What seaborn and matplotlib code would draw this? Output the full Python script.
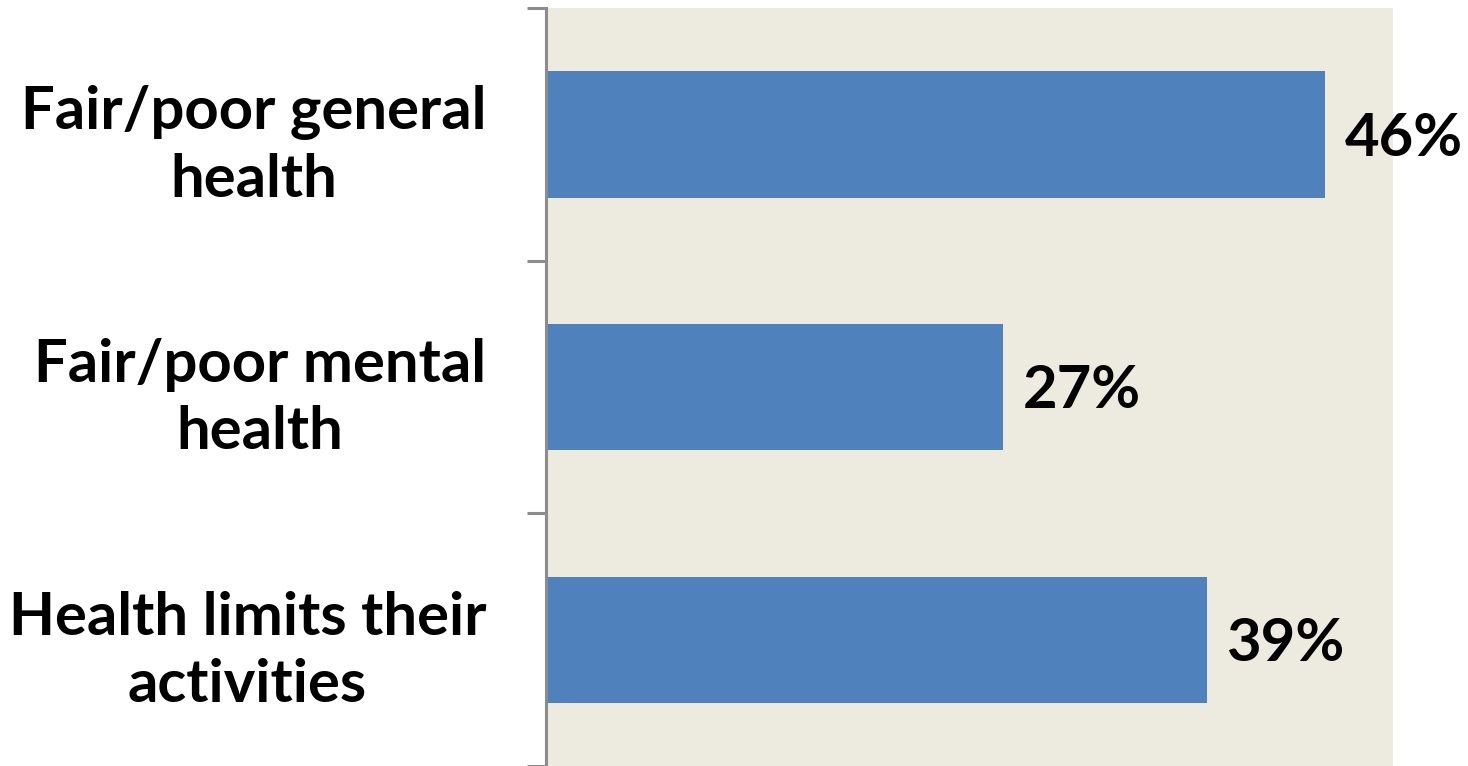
import matplotlib
matplotlib.use("Agg")
import matplotlib.pyplot as plt
import seaborn as sns
import pandas as pd

categories = ["Fair/poor general\nhealth", "Fair/poor mental\nhealth", "Health limits their\nactivities"]
values = [46, 27, 39]
value_labels = ["46%", "27%", "39%"]

sns.set_theme(style="white")
plt.rcParams['font.family'] = ['Lato', 'DejaVu Sans']

df = pd.DataFrame({"cat": categories, "val": values})

fig = plt.figure(figsize=(14.68, 7.66), dpi=100)
ax = fig.add_axes([546/1468, 0.0, (1393-546)/1468, 1 - 8/766])
ax.set_facecolor("#EDEAE0")

sns.barplot(data=df, x="val", y="cat", orient="h", color="#4F81BD",
            saturation=1, width=0.5, linewidth=0, ax=ax)

ax.set_xlim(0, 50)
ax.set_ylim(2.5, -0.5)
ax.set_xlabel("")
ax.set_ylabel("")
ax.set_xticks([])

for s in ["top", "right", "bottom"]:
    ax.spines[s].set_visible(False)
ax.spines["left"].set_color("#8C8C8C")
ax.spines["left"].set_linewidth(2.2)

ax.set_yticks(range(len(categories)))
ax.set_yticklabels(categories, fontsize=43, fontweight="bold",
                   multialignment="center", color="black", linespacing=1.3)
ax.tick_params(axis="y", which="major", length=0, pad=43)
ax.set_yticks([-0.5, 0.5, 1.5, 2.5], minor=True)
ax.tick_params(axis="y", which="minor", length=14, width=2.2, color="#8C8C8C", left=True)

for i, (v, lab) in enumerate(zip(values, value_labels)):
    ax.annotate(lab, xy=(v, i), xytext=(14, -3), textcoords="offset points",
                ha="left", va="center", fontsize=43, fontweight="bold", color="black")

fig.savefig("out.png", dpi=100, facecolor="white")
